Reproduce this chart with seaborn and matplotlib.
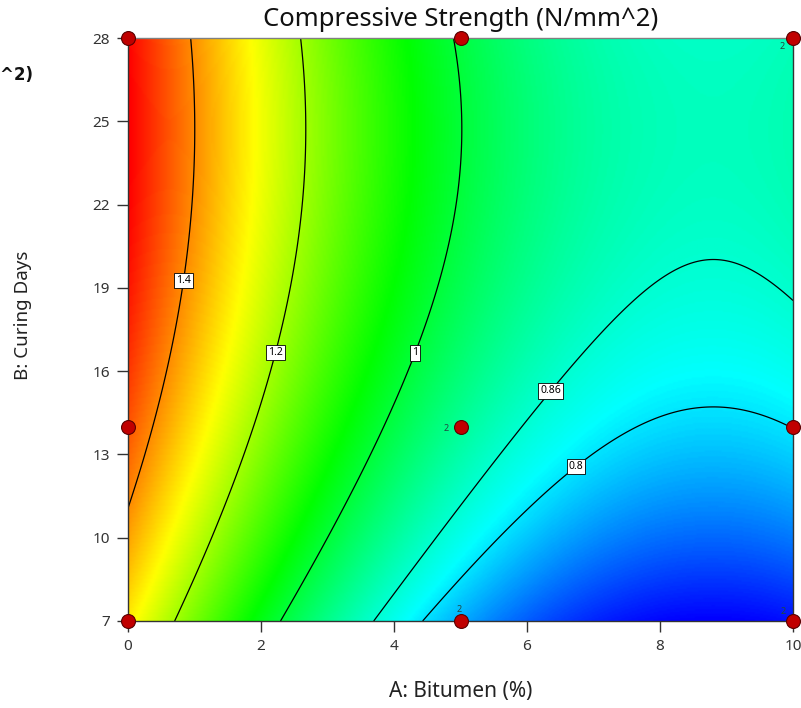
import numpy as np
import matplotlib
matplotlib.use("Agg")
import matplotlib.pyplot as plt
from matplotlib.colors import LinearSegmentedColormap
import seaborn as sns

sns.set_style("white")
plt.rcParams['font.family'] = ['Noto Sans', 'DejaVu Sans']

# --- design points and estimated response (N/mm^2) ---
bitumen = [0, 0, 0, 5, 5, 5, 10, 10, 10]
curing_days = [7, 14, 28, 7, 14, 28, 7, 14, 28]
strength = [1.302, 1.455, 1.535, 0.760, 0.913, 0.993, 0.648, 0.801, 0.881]
replicates = [1, 1, 1, 2, 2, 1, 2, 1, 2]

contour_levels = [0.8, 0.86, 1.0, 1.2, 1.4]
contour_text = {0.8: '0.8', 0.86: '0.86', 1.0: '1', 1.2: '1.2', 1.4: '1.4'}
x_ticks = [0, 2, 4, 6, 8, 10]
y_ticks = [7, 10, 13, 16, 19, 22, 25, 28]

# --- quadratic response surface fitted to the design points ---
A = np.array(bitumen, dtype=float)
B = np.array(curing_days, dtype=float)
y = np.array(strength)
X = np.column_stack([np.ones_like(A), A, B, A * B, A ** 2, B ** 2])
coef, *_ = np.linalg.lstsq(X, y, rcond=None)

ga, gb = np.meshgrid(np.linspace(0, 10, 400), np.linspace(7, 28, 400))
Z = (coef[0] + coef[1] * ga + coef[2] * gb + coef[3] * ga * gb
     + coef[4] * ga ** 2 + coef[5] * gb ** 2)

cmap = LinearSegmentedColormap.from_list(
    "de", [(0.0, "#0000ff"), (0.2, "#00ffff"), (0.46, "#00ff00"),
           (0.72, "#ffff00"), (1.0, "#ff0000")])

fig = plt.figure(figsize=(8.01, 7.08), dpi=100)
ax = fig.add_axes([128 / 801, 87 / 708, 665 / 801, 583 / 708])

ax.imshow(Z, extent=[0, 10, 7, 28], origin="lower", aspect="auto",
          cmap=cmap, vmin=Z.min(), vmax=1.54, interpolation="bilinear")

cs = ax.contour(ga, gb, Z, levels=contour_levels, colors="black", linewidths=0.9)
labels = ax.clabel(cs, fmt=contour_text, fontsize=7.5, inline=False,
                   manual=[(6.68, 12.73), (6.32, 15.36), (4.27, 16.7),
                           (2.17, 16.7), (0.75, 19.3)])
for t in labels:
    t.set_rotation(0)
    t.set_color("black")
    t.set_bbox(dict(facecolor="white", edgecolor="black", pad=1.5, linewidth=0.6))

# design points
sns.scatterplot(x=bitumen, y=curing_days, ax=ax, s=100, color="#c00000",
                edgecolor="#5a0000", linewidth=0.8, zorder=5, clip_on=False,
                legend=False)

offsets = {(5, 14): (-10, -1), (5, 7): (-1, 8), (10, 7): (-7, 7), (10, 28): (-8, -6)}
for a, b, r in zip(bitumen, curing_days, replicates):
    if r > 1:
        ax.annotate(str(r), (a, b), xytext=offsets[(a, b)], textcoords="offset points",
                    fontsize=6.5, color="#204840", ha="center", va="center",
                    annotation_clip=False, zorder=6)

ax.set_xlim(0, 10)
ax.set_ylim(7, 28)
ax.set_xticks(x_ticks)
ax.set_yticks(y_ticks)
ax.tick_params(axis="both", direction="out", length=8, width=1, color="#333333",
               labelsize=11, labelcolor="#333333", pad=5, left=True, bottom=True)
for s in ax.spines.values():
    s.set_color("#333333")
    s.set_linewidth(1)
ax.spines["top"].set_color("#808080")

ax.set_xlabel("A: Bitumen (%)", fontsize=15, color="#222222")
ax.set_ylabel("B: Curing Days", fontsize=13.5, color="#222222")
ax.xaxis.set_label_coords(0.5, -0.103)
ax.yaxis.set_label_coords(-0.145, 0.525)

ax.text(0.5, 1 + 19 / 583, "Compressive Strength (N/mm^2)", transform=ax.transAxes,
        ha="center", va="center", fontsize=18.5, color="#111111")

# cut-off legend title on the left edge
fig.text(33 / 801, 1 - 75 / 708, "Compressive Strength (N/mm^2)", ha="right",
         va="center", fontsize=12, fontweight="bold", color="#111111",
         family=["DejaVu Sans"])

fig.savefig("out.png", dpi=100)
